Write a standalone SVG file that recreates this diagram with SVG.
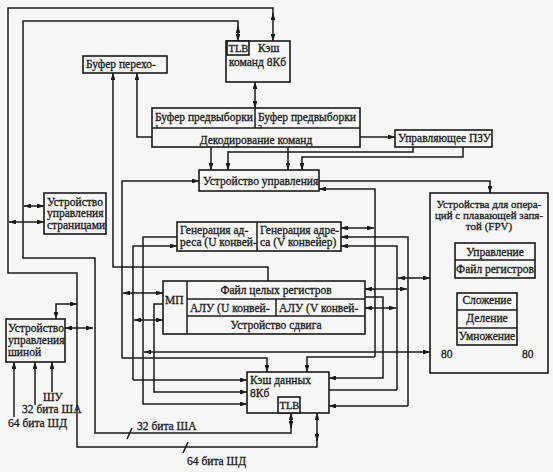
<svg xmlns="http://www.w3.org/2000/svg" width="553" height="472" viewBox="0 0 553 472">
<defs>
<marker id="ah" viewBox="0 0 10 7" refX="10" refY="3.5" markerWidth="7" markerHeight="4.9" markerUnits="userSpaceOnUse" orient="auto-start-reverse"><path d="M0,0 L10,3.5 L0,7 z" fill="#1a1a1a"/></marker>
<clipPath id="cut"><rect x="150" y="100" width="210" height="28.5"/></clipPath>
<style>
.b{fill:#f6f6f4;stroke:#1a1a1a;stroke-width:1.6}
.l{fill:none;stroke:#1a1a1a;stroke-width:1.5}
.e{marker-end:url(#ah)}
.d{marker-start:url(#ah);marker-end:url(#ah)}
text{font-family:"Liberation Serif","Times New Roman",serif;font-size:11.5px;fill:#1a1a1a;stroke:#1a1a1a;stroke-width:0.3}
.s{font-size:10.5px}
.f{font-size:11px}
.t{font-size:8px}
.m{text-anchor:middle}
</style>
</defs>
<rect width="553" height="472" fill="#f6f6f4"/>
<g id="connectors">
<path class="l d" d="M273 41 L273 8 L8 8 L8 273 L77 273 L77 447 L317 447 L317 413"/>
<path class="l e" d="M273 20 L273 13"/>
<path class="l e" d="M317 433 L317 441"/>
<path class="l d" d="M238 41 L238 21 L23 21 L23 258 L95 258 L95 433 L291 433 L291 413"/>
<path class="l e" d="M238 32 L238 26"/>
<path class="l e" d="M291 420 L291 428"/>
<path class="l d" d="M24 206 L44 206"/>
<path class="l d" d="M9 222 L44 222"/>
<path class="l d" d="M65 328 L93 328"/>
<path class="l d" d="M77 304 L56 304 L56 319"/>
<path class="l e" d="M14 417 L14 362"/>
<path class="l e" d="M35 405 L35 362"/>
<path class="l e" d="M52 392 L52 362"/>
<path class="l d" d="M255 82 L255 108"/>
<path class="l e" d="M268 281 L268 267 L113 267 L113 73"/>
<path class="l e" d="M152 137 L137 137 L137 73"/>
<path class="l e" d="M360 137 L395 137"/>
<path class="l e" d="M211 147 L211 170"/>
<path class="l e" d="M288 147 L288 170"/>
<path class="l e" d="M413 147 L413 152 L228 152 L228 170"/>
<path class="l e" d="M463 147 L463 157 L302 157 L302 170"/>
<path class="l e" d="M319 181 L490 181 L490 193"/>
<path class="l e" d="M122 358 L122 181 L199 181"/>
<path class="l e" d="M122 358 L267 358 L267 372"/>
<path class="l d" d="M123 293 L163 293"/>
<path class="l e" d="M133 380 L133 246 L177 246"/>
<path class="l e" d="M133 380 L247 380"/>
<path class="l d" d="M134 320 L163 320"/>
<path class="l e" d="M177 237 L143 237 L143 404 L247 404"/>
<path class="l d" d="M144 352 L430 352"/>
<path class="l e" d="M163 304 L154 304 L154 392 L247 392"/>
<path class="l e" d="M375 357 L375 189 L319 189"/>
<path class="l e" d="M375 357 L307 357 L307 372"/>
<path class="l d" d="M341 228 L374 228"/>
<path class="l e" d="M408 406 L408 237 L341 237"/>
<path class="l e" d="M408 406 L329 406"/>
<path class="l d" d="M365 289 L407 289"/>
<path class="l e" d="M397 390 L397 246 L341 246"/>
<path class="l" d="M397 390 L329 390"/>
<path class="l d" d="M365 308 L396 308"/>
<path class="l d" d="M398 278 L430 278"/>
<path class="l e" d="M365 297 L383 297 L383 378 L329 378"/>
<path class="l" d="M455 251 L436 251 L436 315"/>
<path class="l" d="M455 268 L445 268 L445 315"/>
<path class="l e" d="M436 297 L457 297"/>
<path class="l e" d="M445 306 L457 306"/>
<path class="l" d="M448 314 L454 314"/>
<path class="l e" d="M452 336 L452 341 L446 341"/>
<path class="l e" d="M517 300 L533 300"/>
<path class="l e" d="M533 315 L533 278"/>
<path class="l" d="M127 439 L132 428"/>
<path class="l" d="M183 453 L188 442"/>
</g>
<g id="icache">
<rect class="b" x="226" y="41" width="64" height="41"/>
<rect class="b" x="227" y="41" width="22" height="14"/>
<text class="s" x="228.5" y="52">TLB</text>
<text x="258" y="52">Кэш</text>
<text x="229" y="66">команд 8Кб</text>
</g>
<g id="branch-buffer">
<rect class="b" x="83" y="56" width="84" height="17"/>
<text x="86" y="68">Буфер перехо-</text>
</g>
<g id="prefetch-decode">
<rect class="b" x="152" y="108" width="208" height="39"/>
<line class="l" x1="152" y1="128" x2="360" y2="128"/>
<line class="l" x1="255" y1="108" x2="255" y2="128"/>
<text x="155" y="121">Буфер предвыборки</text>
<text x="258" y="121">Буфер предвыборки</text>
<g clip-path="url(#cut)">
<text class="t" x="155" y="131">1</text>
<text class="t" x="258" y="131">2</text>
</g>
<text class="m" x="256" y="143.5">Декодирование команд</text>
</g>
<g id="rom">
<rect class="b" x="395" y="130" width="97" height="17"/>
<text x="398" y="142">Управляющее ПЗУ</text>
</g>
<g id="control-unit">
<rect class="b" x="199" y="170" width="120" height="21"/>
<text x="203" y="185">Устройство управления</text>
</g>
<g id="page-unit">
<rect class="b" x="44" y="193" width="62" height="41"/>
<text x="47" y="206">Устройство</text>
<text x="47" y="217">управления</text>
<text x="47" y="229">страницами</text>
</g>
<g id="address-gen">
<rect class="b" x="177" y="222" width="164" height="29"/>
<line class="l" x1="257" y1="222" x2="257" y2="251"/>
<text x="180" y="234">Генерация ад-</text>
<text x="180" y="246">реса (U конвей-</text>
<text x="260" y="234">Генерация адре-</text>
<text x="260" y="246">са (V конвейер)</text>
</g>
<g id="integer-unit">
<rect class="b" x="163" y="281" width="202" height="53"/>
<line class="l" x1="187" y1="281" x2="187" y2="334"/>
<line class="l" x1="187" y1="299" x2="365" y2="299"/>
<line class="l" x1="187" y1="316" x2="365" y2="316"/>
<line class="l" x1="276" y1="299" x2="276" y2="316"/>
<text x="165" y="304">МП</text>
<text class="m" x="276" y="294">Файл целых регистров</text>
<text x="190" y="312">АЛУ (U конвей-</text>
<text x="279" y="312">АЛУ (V конвей-</text>
<text class="m" x="276" y="329">Устройство сдвига</text>
</g>
<g id="dcache">
<rect class="b" x="247" y="372" width="82" height="41"/>
<rect class="b" x="278" y="397" width="22" height="16"/>
<text x="250" y="384">Кэш данных</text>
<text x="250" y="397">8Кб</text>
<text class="s" x="279.5" y="409">TLB</text>
</g>
<g id="fpu">
<rect class="b" x="430" y="193" width="118" height="180"/>
<text class="m f" x="489" y="208">Устройства для опера-</text>
<text class="m f" x="489" y="219">ций с плавающей запя-</text>
<text class="m f" x="489" y="230">той (FPV)</text>
<rect class="b" x="455" y="243" width="80" height="35"/>
<line class="l" x1="455" y1="260" x2="535" y2="260"/>
<text class="m" x="495" y="256">Управление</text>
<text class="m" x="495" y="273">Файл регистров</text>
<rect class="b" x="457" y="293" width="60" height="52"/>
<line class="l" x1="457" y1="310" x2="517" y2="310"/>
<line class="l" x1="457" y1="328" x2="517" y2="328"/>
<text class="m" x="487" y="304">Сложение</text>
<text class="m" x="487" y="322">Деление</text>
<text class="m" x="487" y="340">Умножение</text>
<text x="441" y="358">80</text>
<text x="522" y="358">80</text>
</g>
<g id="bus-unit">
<rect class="b" x="6" y="319" width="59" height="43"/>
<text x="8" y="332">Устройство</text>
<text x="8" y="344">управления</text>
<text x="8" y="356">шиной</text>
<text x="43" y="401">ШУ</text>
<text x="22" y="413">32 бита ША</text>
<text x="8" y="427">64 бита ШД</text>
</g>
<g id="bus-labels">
<text x="137" y="430">32 бита ША</text>
<text x="187" y="465">64 бита ШД</text>
</g>
</svg>
